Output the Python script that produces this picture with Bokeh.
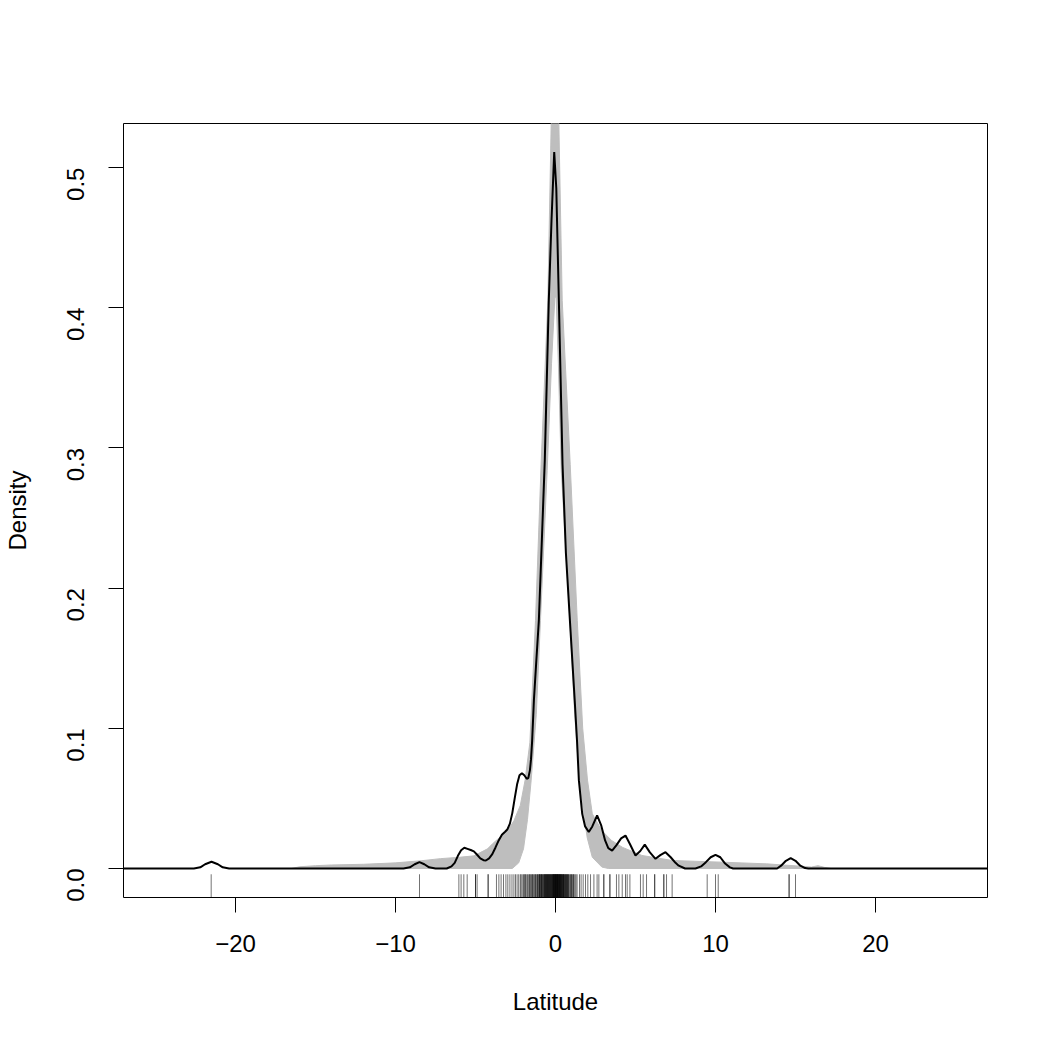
import math
from bokeh.plotting import figure
from bokeh.models import Range1d, FixedTicker
from bokeh.embed import file_html
from bokeh.resources import INLINE

# ---- data ----
density_x = [-27.0, -22.6, -22.2, -21.9, -21.5, -21.1, -20.8, -20.4,
             -9.5, -9.1, -8.8, -8.5, -8.2, -7.9, -7.5,
             -6.8, -6.5, -6.3, -6.1, -5.9, -5.7, -5.5, -5.3, -5.1, -4.9, -4.7, -4.5, -4.35,
             -4.15, -3.95, -3.75, -3.55, -3.35, -3.15, -3.0, -2.85, -2.7, -2.55, -2.4, -2.25,
             -2.1, -1.95, -1.8, -1.7, -1.6, -1.53, -1.46, -1.35, -1.2, -1.04, -0.85, -0.67,
             -0.42, -0.25, -0.08, 0.05, 0.21, 0.44, 0.65, 0.9, 1.2, 1.35, 1.46, 1.67, 1.85,
             2.08, 2.3, 2.6, 2.85, 3.1, 3.3, 3.54, 3.8, 4.1, 4.375, 4.65, 5.0, 5.3, 5.58,
             5.9, 6.25, 6.55, 6.875, 7.2, 7.5, 7.7, 8.1,
             8.75, 9.1, 9.4, 9.7, 10.0, 10.3, 10.6, 10.9, 11.1,
             13.85, 14.1, 14.4, 14.7, 15.0, 15.3, 15.6, 15.8, 27.0]
density_y = [0.0, 0.0, 0.0008, 0.003, 0.0048, 0.003, 0.0008, 0.0,
             0.0, 0.0008, 0.003, 0.0045, 0.003, 0.0008, 0.0,
             0.0, 0.0015, 0.004, 0.009, 0.013, 0.0148, 0.014, 0.0132, 0.0122, 0.0098, 0.0072, 0.0059, 0.0057,
             0.0072, 0.0102, 0.015, 0.02, 0.024, 0.0262, 0.028, 0.032, 0.0395, 0.05, 0.06, 0.0665,
             0.068, 0.0665, 0.064, 0.0645, 0.07, 0.078, 0.091, 0.12, 0.148, 0.177, 0.235, 0.291,
             0.405, 0.462, 0.511, 0.485, 0.405, 0.288, 0.225, 0.177, 0.12, 0.09, 0.063, 0.039, 0.03,
             0.026, 0.03, 0.0378, 0.031, 0.02, 0.0145, 0.0128, 0.0165, 0.0215, 0.0235, 0.0175, 0.0093, 0.0125, 0.017,
             0.0115, 0.0069, 0.0095, 0.0116, 0.008, 0.004, 0.002, 0.0,
             0.0, 0.0015, 0.0045, 0.008, 0.0097, 0.008, 0.0035, 0.0008, 0.0,
             0.0, 0.002, 0.0055, 0.0074, 0.0055, 0.002, 0.0003, 0.0, 0.0]

upper_x = [-16.5, -16.0, -15.0, -14.0, -12.0, -10.0, -8.4, -7.2, -6.0, -5.1, -4.25, -3.9, -3.0,
           -2.6, -2.2, -1.9, -1.6, -1.25, -0.9, -0.48, -0.27, -0.05, 0.0, 0.21, 0.42, 0.92,
           1.36, 1.7, 2.0, 2.3, 2.9, 3.5, 4.2, 5.4, 7.3, 10.4, 13.2, 15.5, 16.0, 16.4, 16.8, 17.2]
upper_y = [0.0, 0.0012, 0.002, 0.0025, 0.003, 0.004, 0.0055, 0.007, 0.008, 0.009, 0.014, 0.018, 0.027,
           0.034, 0.045, 0.063, 0.09, 0.177, 0.288, 0.405, 0.531, 0.6, 0.6, 0.531, 0.405, 0.288,
           0.177, 0.1, 0.063, 0.039, 0.027, 0.02, 0.015, 0.0093, 0.0057, 0.0045, 0.0033, 0.0015, 0.001, 0.002, 0.0008, 0.0]

lower_x = [-16.5, -2.7, -2.3, -2.0, -1.75, -1.52, -1.2, -0.94, -0.52, -0.25, -0.04,
           0.04, 0.18, 0.36, 0.9, 1.2, 1.5, 1.77, 1.98, 2.3, 2.9, 3.3, 17.2]
lower_y = [0.0, 0.0, 0.004, 0.014, 0.035, 0.063, 0.11, 0.177, 0.284, 0.36, 0.4075,
           0.4075, 0.36, 0.284, 0.177, 0.11, 0.063, 0.039, 0.022, 0.008, 0.001, 0.0, 0.0]

rug_x = [-21.52, -8.5, -6.04, -5.9, -5.73, -5.52, -5.0, -5.0, -4.9, -4.21, -4.21, -3.69, -3.54,
         -3.4, -3.25, -3.1, -2.98, -2.85, -2.72, -2.6, -2.5, -2.4, -2.3,
         -2.2, -2.15, -2.08, -2.0, -1.95, -1.88, -1.8, -1.75, -1.68, -1.6, -1.55, -1.5, -1.44,
         -1.38, -1.3, -1.25, -1.2, -1.15, -1.1, -1.05, -1.0, -0.96, -0.92, -0.88, -0.84,
         -0.8, -0.76, -0.72, -0.68, -0.64, -0.6, -0.56, -0.52, -0.48, -0.44, -0.4, -0.36,
         -0.32, -0.28, -0.24, -0.2, -0.16, -0.12, -0.08, -0.04, 0.0, 0.04, 0.08, 0.12,
         0.16, 0.2, 0.24, 0.28, 0.32, 0.36, 0.4, 0.44, 0.48, 0.52, 0.56, 0.6, 0.64, 0.68,
         0.72, 0.76, 0.8, 0.85, 0.9, 0.95, 1.0, 1.05, 1.1, 1.16, 1.22, 1.28, 1.35,
         -1.9, -1.62, -1.42, -1.28, -1.12, -0.98, -0.86, -0.7, -0.58, -0.46, -0.34, -0.22,
         -0.14, -0.06, 0.02, 0.1, 0.18, 0.26, 0.34, 0.46, 0.58, 0.7, 0.82, 0.97, 1.12,
         -0.5, -0.3, -0.1, 0.06, 0.14, 0.3, 0.5, -0.02, -0.18, 0.22,
         -0.9, -0.78, -0.66, -0.54, -0.42, -0.38, -0.26, -0.15, -0.05, 0.01, 0.09, 0.17,
         0.25, 0.33, 0.41, 0.49, 0.62, 0.74, -1.02, -0.62, -0.11, 0.03, 0.13, 0.38,
         1.5, 1.6, 1.73, 1.875, 2.02, 2.19, 2.4, 2.6, 2.71, 3.02, 3.02, 3.4, 3.4, 3.81, 3.96,
         4.17, 4.375, 4.48, 4.65, 5.31, 5.48, 5.69, 6.2, 6.2, 6.77, 6.77, 6.94, 7.29,
         9.48, 10.0, 10.17, 14.6, 14.6, 15.0]

x_ticks = [-20, -10, 0, 10, 20]
x_tick_labels = ["\u221220", "\u221210", "0", "10", "20"]
y_ticks = [0.0, 0.1, 0.2, 0.3, 0.4, 0.5]
y_tick_labels = ["0.0", "0.1", "0.2", "0.3", "0.4", "0.5"]

X_MIN, X_MAX = -27.0, 27.0
Y_MIN, Y_MAX = -0.0207, 0.5314
FONT = "Liberation Sans"

p = figure(frame_width=864, frame_height=774,
           min_border_left=123, min_border_top=123,
           min_border_right=55, min_border_bottom=145,
           x_range=Range1d(X_MIN, X_MAX), y_range=Range1d(Y_MIN, Y_MAX),
           output_backend="svg", toolbar_location=None, tools="")
p.grid.visible = False
p.outline_line_color = "black"
p.outline_line_width = 1
p.background_fill_color = "white"
p.border_fill_color = "white"

# gray envelope band
band_x = upper_x + lower_x[::-1]
band_y = upper_y + lower_y[::-1]
p.patch(band_x, band_y, fill_color="#BEBEBE", line_color="#BEBEBE", line_width=1)

# density curve
p.line(density_x, density_y, line_color="black", line_width=2)

# rug
rug_top = Y_MIN + 0.03 * (Y_MAX - Y_MIN)
p.segment(x0=rug_x, y0=[Y_MIN] * len(rug_x), x1=rug_x, y1=[rug_top] * len(rug_x),
          line_color="black", line_alpha=0.55, line_width=1)

for ax in (p.xaxis[0], p.yaxis[0]):
    ax.axis_line_color = None
    ax.major_tick_out = 15
    ax.major_tick_in = 0
    ax.minor_tick_line_color = None
    ax.major_tick_line_color = "black"
    ax.major_label_text_font = FONT
    ax.major_label_text_font_size = "24px"
    ax.major_label_text_color = "black"
    ax.axis_label_text_font = FONT
    ax.axis_label_text_font_size = "24px"
    ax.axis_label_text_font_style = "normal"
    ax.axis_label_text_color = "black"

p.xaxis.ticker = FixedTicker(ticks=x_ticks)
p.xaxis.major_label_overrides = dict(zip(x_ticks, x_tick_labels))
p.xaxis.axis_label = "Latitude"
p.xaxis.major_label_standoff = 22
p.xaxis.axis_label_standoff = 33

p.yaxis.ticker = FixedTicker(ticks=y_ticks)
p.yaxis.major_label_overrides = dict(zip(y_ticks, y_tick_labels))
p.yaxis.major_label_orientation = math.pi / 2
p.yaxis.axis_label = "Density"
p.yaxis.major_label_standoff = 33
p.yaxis.axis_label_standoff = 25

open("out.html", "w").write(file_html(p, INLINE))
